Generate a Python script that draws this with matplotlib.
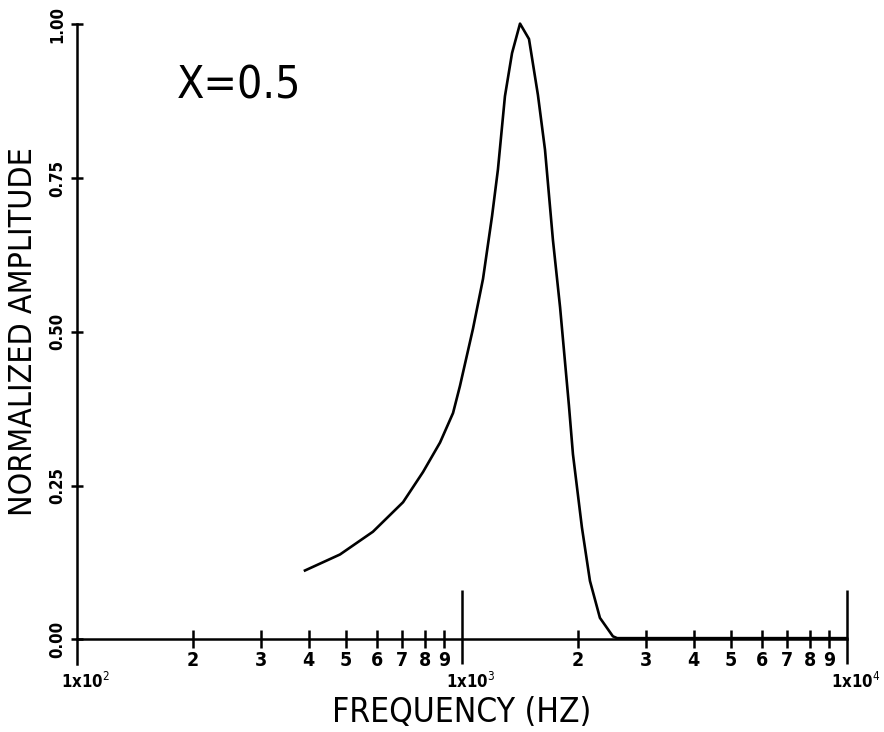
import numpy as np
import matplotlib
matplotlib.use("Agg")
import matplotlib.pyplot as plt
from matplotlib.ticker import FixedLocator, FixedFormatter, NullFormatter

# curve
freq = [391, 482, 587, 703, 792, 877, 948, 988, 1068, 1134, 1197, 1240, 1293,
        1349, 1415, 1493, 1575, 1643, 1723, 1798, 1896, 1942, 2049, 2150, 2282,
        2466, 2530, 3000, 5000, 8000, 10000]
amp = [0.112, 0.138, 0.175, 0.223, 0.272, 0.320, 0.368, 0.412, 0.505, 0.586,
       0.688, 0.764, 0.883, 0.953, 1.001, 0.976, 0.885, 0.796, 0.649, 0.540,
       0.380, 0.301, 0.182, 0.095, 0.035, 0.005, 0.002, 0.002, 0.002, 0.002, 0.002]

decades = [100, 1000, 10000]
decade_labels = [r'1x10$^2$', r'1x10$^3$', r'1x10$^4$']
minor_ticks = [200, 300, 400, 500, 600, 700, 800, 900,
               2000, 3000, 4000, 5000, 6000, 7000, 8000, 9000]
minor_labels = ['2', '3', '4', '5', '6', '7', '8', '9'] * 2
y_ticks = [0.0, 0.25, 0.50, 0.75, 1.0]
y_labels = ['0.00', '0.25', '0.50', '0.75', '1.00']

plt.rcParams['font.family'] = ['DejaVu Sans']
plt.rcParams['font.stretch'] = 'condensed'

fig = plt.figure(figsize=(8.84, 7.32), dpi=100)
ax = fig.add_axes([0.0871, 0.0929, 0.871, 0.874])

ax.plot(freq, amp, color='black', lw=1.9, clip_on=False)

ax.set_xscale('log')
ax.set_xlim(100, 10000)
ax.set_ylim(-0.04, 1.0)

ax.spines['top'].set_visible(False)
ax.spines['right'].set_visible(False)
ax.spines['bottom'].set_position(('data', 0))
for s in ('left', 'bottom'):
    ax.spines[s].set_linewidth(1.8)

# x ticks
ax.xaxis.set_major_locator(FixedLocator(decades))
ax.xaxis.set_major_formatter(NullFormatter())
ax.xaxis.set_minor_locator(FixedLocator(minor_ticks))
ax.xaxis.set_minor_formatter(FixedFormatter(minor_labels))
ax.tick_params(axis='x', which='major', length=0)
ax.tick_params(axis='x', which='minor', direction='inout', length=13,
               width=1.8, labelsize=14, pad=2)
for t in ax.xaxis.get_minorticklabels():
    t.set_fontweight('bold')
ax.vlines(decades[1:], -0.04, 0.08, color='black', lw=1.8, clip_on=False)
for d, lab in zip(decades, decade_labels):
    ax.annotate(lab, xy=(d, 0), xytext=(6, -31), textcoords='offset points',
                ha='center', va='center', fontsize=12, fontweight='bold')

# y ticks
ax.set_yticks(y_ticks)
ax.set_yticklabels(y_labels, rotation=90, va='center', fontweight='bold')
ax.tick_params(axis='y', direction='inout', length=9, width=1.8,
               labelsize=12, pad=3)

ax.text(-0.069, 0.519, 'NORMALIZED AMPLITUDE', transform=ax.transAxes,
        rotation=90, ha='center', va='center', fontsize=23)
ax.text(0.5, -0.076, 'FREQUENCY (HZ)', transform=ax.transAxes,
        ha='center', va='center', fontsize=24)
ax.text(263, 0.90, 'X=0.5', ha='center', va='center', fontsize=32)

fig.savefig('out.png', dpi=100)
